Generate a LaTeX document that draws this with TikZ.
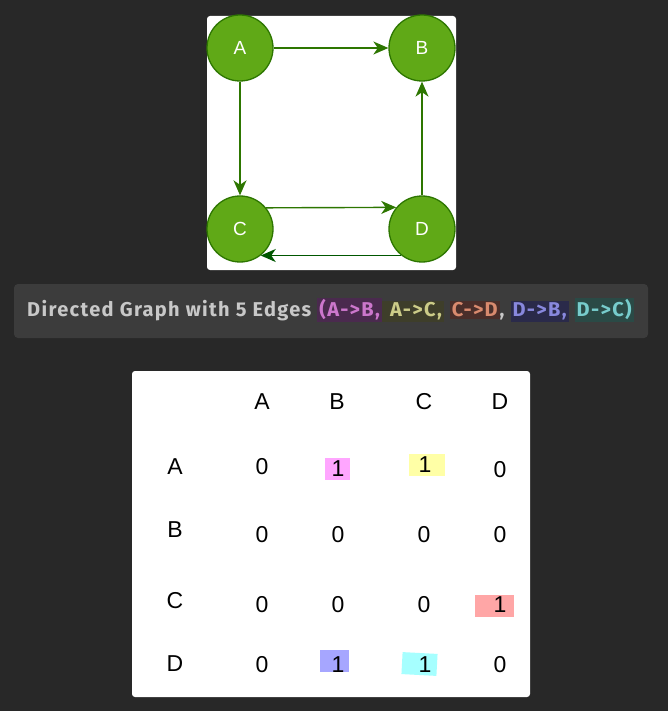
\documentclass[tikz,border=0pt]{standalone}
\usepackage{fontspec}
\setmainfont{Liberation Sans}
\newfontfamily\capfont[LetterSpace=6.7]{Fira Sans}
\usetikzlibrary{arrows.meta}
\definecolor{bgdark}{HTML}{282828}
\definecolor{capbg}{HTML}{3C3C3C}
\definecolor{capfg}{HTML}{C8C8C8}
\definecolor{nodefill}{HTML}{60A917}
\definecolor{nodeline}{HTML}{2D7600}
\definecolor{edgedark}{HTML}{005700}
\definecolor{hlAB}{HTML}{4A2A4E}\definecolor{tAB}{HTML}{CC77CC}
\definecolor{hlAC}{HTML}{3E3E2A}\definecolor{tAC}{HTML}{CCCC88}
\definecolor{hlCD}{HTML}{4A2E2A}\definecolor{tCD}{HTML}{D98A6E}
\definecolor{hlDB}{HTML}{2A2A4A}\definecolor{tDB}{HTML}{8888DD}
\definecolor{hlDC}{HTML}{2A4A46}\definecolor{tDC}{HTML}{77CCCC}
\definecolor{mkAB}{HTML}{FFA6FF}
\definecolor{mkAC}{HTML}{FFFFA6}
\definecolor{mkCD}{HTML}{FFA6A6}
\definecolor{mkDB}{HTML}{A6A6FF}
\definecolor{mkDC}{HTML}{A6FFFF}
\tikzset{
  vertex/.style={circle, draw=nodeline, line width=1.3pt, fill=nodefill, minimum size=66pt, inner sep=0pt, text=white, font=\fontsize{19}{19}\selectfont},
  edge/.style={draw=nodeline, line width=1.4pt, -{Stealth[length=15pt,width=13pt,inset=4.5pt]}},
  cell/.style={font=\fontsize{23}{23}\selectfont, text=black, inner sep=0pt, anchor=center},
}
\newcommand{\hlbox}[3]{{\setlength{\fboxsep}{2pt}\colorbox{#1}{\textcolor{#2}{#3}}}}
\begin{document}
\begin{tikzpicture}[x=1pt,y=-1pt]
\fill[bgdark] (0,0) rectangle (668,711);
\useasboundingbox (0,0) rectangle (668,711);
% graph panel
\fill[white, rounded corners=3pt] (207,16) rectangle (456,270);
\node[vertex] (A) at (240,48) {A};
\node[vertex] (B) at (422,48) {B};
\node[vertex] (C) at (240,229) {C};
\node[vertex] (D) at (422,229) {D};
\draw[edge] (A) -- (B);
\draw[edge] (A) -- (C);
\draw[edge] (C.39.5) -- (D.140.5);
\draw[edge] (D) -- (B);
\draw[edge, draw=edgedark] (D.232) -- (C.308);
% caption
\fill[capbg, rounded corners=4pt] (14,284) rectangle (648,338);
\node[anchor=west, inner sep=0pt, text=capfg, font=\capfont\bfseries\fontsize{20}{20}\selectfont] (cap) at (27,310)
  {Directed Graph with 5 Edges \hlbox{hlAB}{tAB}{(A->B,}\hlbox{hlAC}{tAC}{\ A->C,} \hlbox{hlCD}{tCD}{C->D}, \hlbox{hlDB}{tDB}{D->B,} \hlbox{hlDC}{tDC}{D->C)}};
% matrix panel
\fill[white, rounded corners=3pt] (132,371) rectangle (530,697);
\fill[mkAB] (325,458) rectangle (350,480);
\fill[mkAC] (409,454) rectangle (445,476);
\fill[mkCD] (475,595) rectangle (514,617);
\fill[mkDB] (320,650) rectangle (349,672);
\fill[mkDC, rotate around={-3:(419.5,664)}] (402,653) rectangle (437,675);
\node[cell] (hA) at (262,402) {A};
\node[cell] (hB) at (337,402) {B};
\node[cell] (hC) at (424,402) {C};
\node[cell] (hD) at (500,402) {D};
\node[cell] (rA) at (175,467) {A};
\node[cell] (rB) at (175,530) {B};
\node[cell] (rC) at (175,601) {C};
\node[cell] (rD) at (175,664) {D};
\node[cell] (aa) at (262,467) {0};
\node[cell] (ab) at (338,469) {1};
\node[cell] (ac) at (425,465) {1};
\node[cell] (ad) at (500,470) {0};
\node[cell] (ba) at (262,535) {0};
\node[cell] (bb) at (338,535) {0};
\node[cell] (bc) at (424,535) {0};
\node[cell] (bd) at (500,535) {0};
\node[cell] (ca) at (262,605) {0};
\node[cell] (cb) at (338,605) {0};
\node[cell] (cc) at (424,605) {0};
\node[cell] (cd) at (500,605) {1};
\node[cell] (da) at (262,665) {0};
\node[cell] (db) at (338,665) {1};
\node[cell] (dc) at (425,665) {1};
\node[cell] (dd) at (500,665) {0};
\end{tikzpicture}
\end{document}
